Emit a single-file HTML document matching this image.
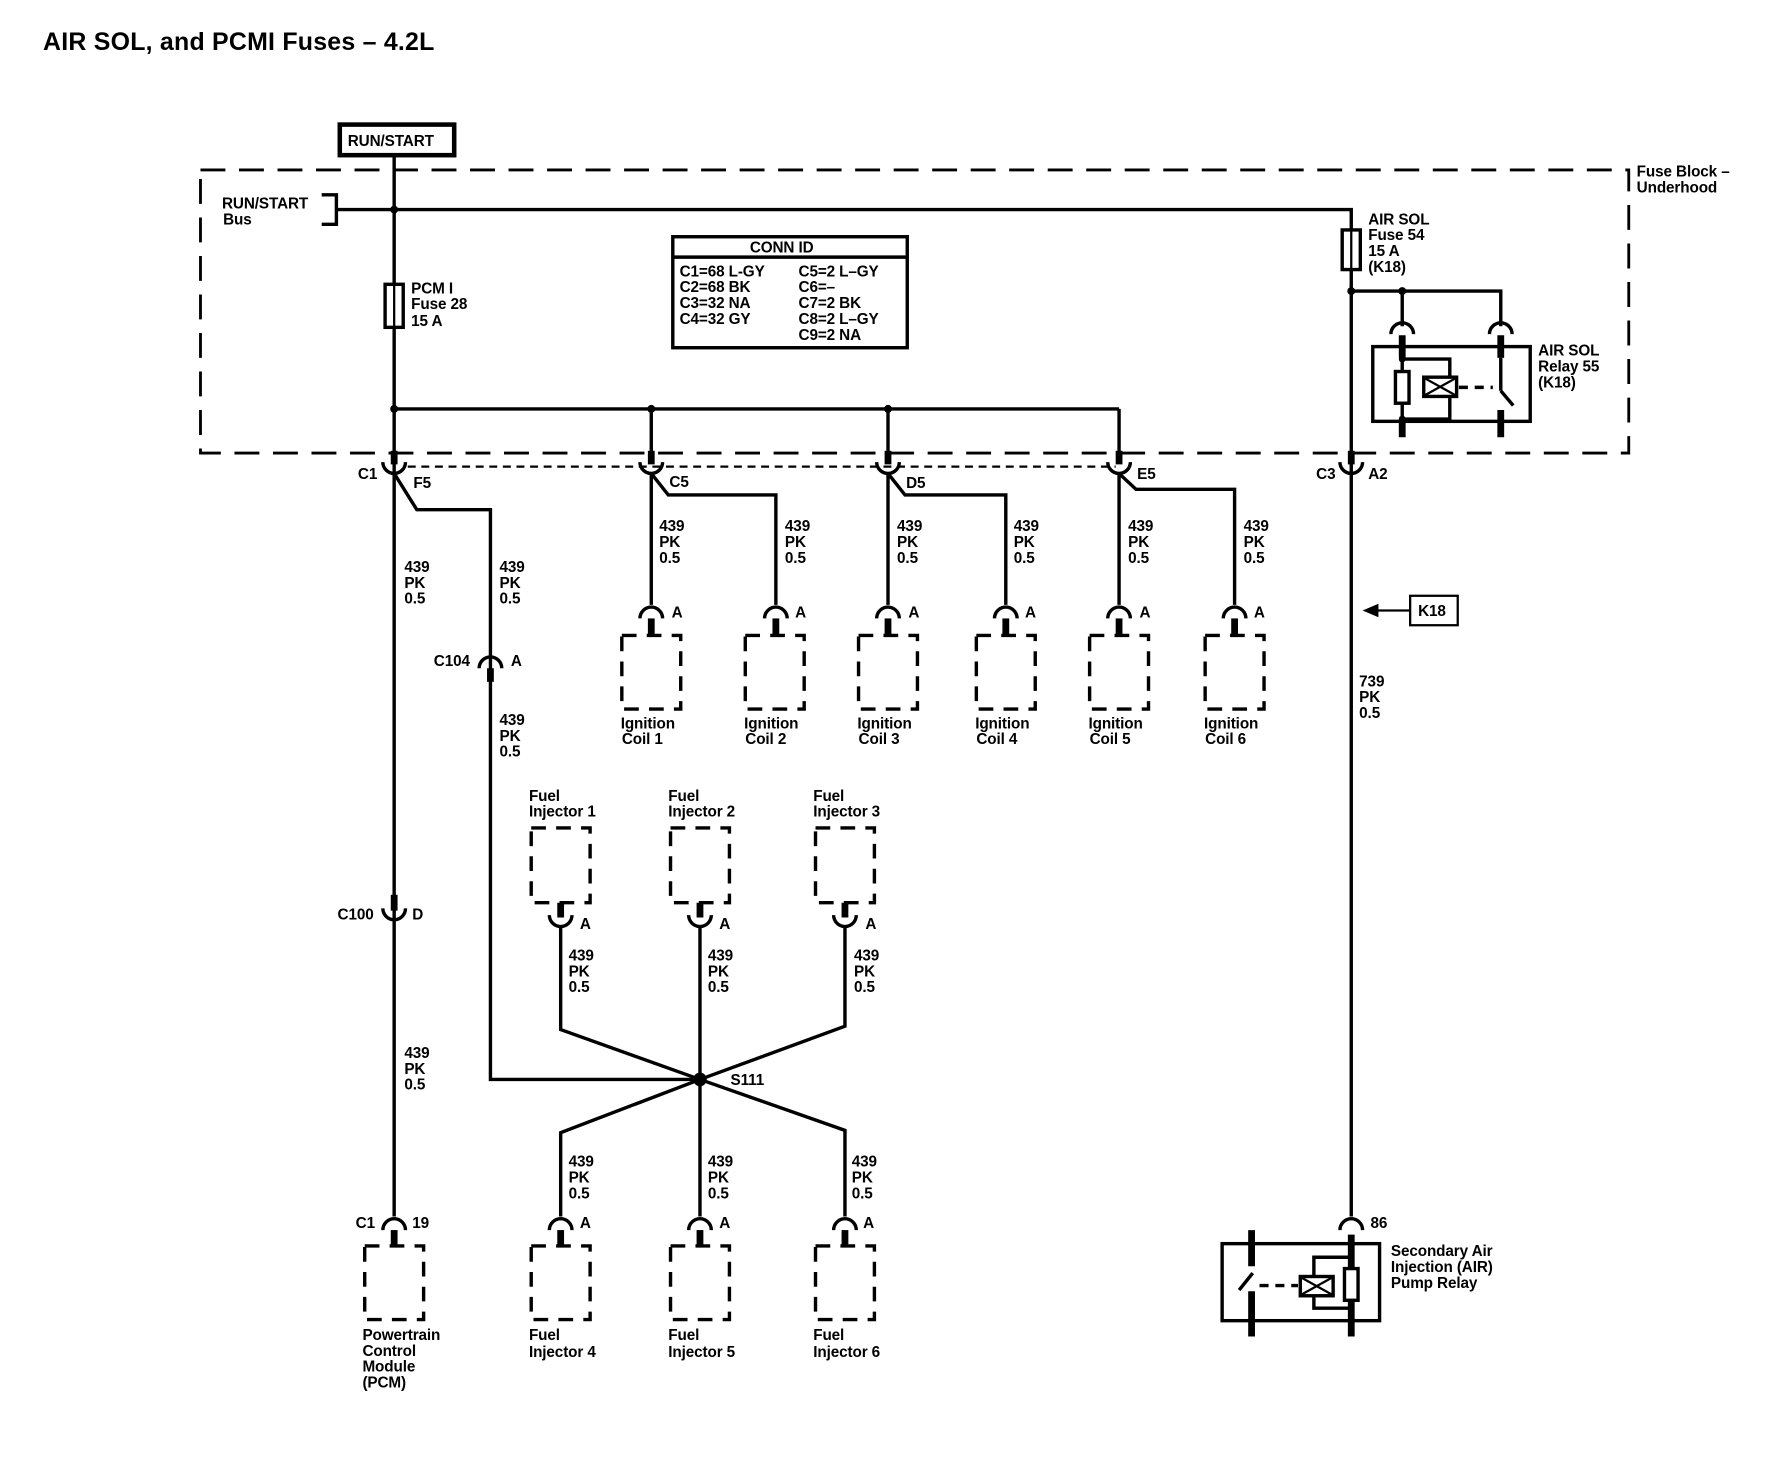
<!DOCTYPE html>
<html><head><meta charset="utf-8"><style>
html,body{margin:0;padding:0;background:#fff;}
svg{display:block;}
text{font-family:"Liberation Sans",Arial,sans-serif;font-size:13.5px;font-weight:bold;fill:#000;letter-spacing:-0.1px;}
.w{stroke:#000;stroke-width:3;fill:none;}
.t{stroke:#000;stroke-width:2;fill:none;}
.stub{stroke:#000;stroke-width:6;fill:none;}
.box{stroke:#000;stroke-width:3;fill:none;stroke-dasharray:13 9;}
</style></head><body>
<svg width="1776" height="1472" viewBox="0 0 1568 1299.6" xmlns="http://www.w3.org/2000/svg">
<rect width="1568" height="1300" fill="#fff"/>
<text x="38" y="44" style="font-size:22px;letter-spacing:0.2px">AIR SOL, and PCMI Fuses – 4.2L</text>

<rect x="300" y="110" width="101" height="27" fill="none" stroke="#000" stroke-width="4"/>
<text x="307" y="129">RUN/START</text>

<rect x="177" y="150" width="1261" height="250" fill="none" stroke="#000" stroke-width="2.5" stroke-dasharray="22 12"/>
<text x="1445" y="156">Fuse Block –</text>
<text x="1445" y="170">Underhood</text>

<path class="w" d="M348 138 V1074"/>
<path class="w" d="M298 185 H1193 V1074"/>
<path class="w" d="M284 172 H297 V198 H284"/>
<text x="196" y="184">RUN/START</text>
<text x="197" y="198">Bus</text>
<circle cx="348" cy="185" r="3.5"/>
<rect x="340" y="251" width="16" height="38" fill="#fff" stroke="#000" stroke-width="3"/>
<path class="t" d="M348 251 V289"/>
<text x="363" y="259">PCM I</text><text x="363" y="273">Fuse 28</text><text x="363" y="288">15 A</text>
<circle cx="348" cy="361" r="3.5"/>
<path class="w" d="M348 361 H988"/>
<circle cx="575" cy="361" r="3.5"/><circle cx="784" cy="361" r="3.5"/>
<path class="w" d="M575 361 V404 M784 361 V404 M988 361 V404"/>

<rect x="594" y="209" width="207" height="98" fill="none" stroke="#000" stroke-width="3"/>
<path class="w" d="M594 227 H801"/>
<text x="662" y="223">CONN ID</text>
<text x="600" y="244">C1=68 L-GY</text><text x="600" y="258">C2=68 BK</text><text x="600" y="272">C3=32 NA</text><text x="600" y="286">C4=32 GY</text>
<text x="705" y="244">C5=2 L–GY</text><text x="705" y="258">C6=–</text><text x="705" y="272">C7=2 BK</text><text x="705" y="286">C8=2 L–GY</text><text x="705" y="300">C9=2 NA</text>

<path d="M360 412 H985" stroke="#000" stroke-width="2" stroke-dasharray="7 5"/>
<g>
<path class="stub" d="M348 398 V410"/><path class="t" style="stroke-width:3" d="M338 408 A10 10 0 0 0 358 408"/>
<path class="stub" d="M575 398 V410"/><path class="t" style="stroke-width:3" d="M565 408 A10 10 0 0 0 585 408"/>
<path class="stub" d="M784 398 V410"/><path class="t" style="stroke-width:3" d="M774 408 A10 10 0 0 0 794 408"/>
<path class="stub" d="M988 398 V410"/><path class="t" style="stroke-width:3" d="M978 408 A10 10 0 0 0 998 408"/>
<path class="stub" d="M1193 398 V410"/><path class="t" style="stroke-width:3" d="M1183 408 A10 10 0 0 0 1203 408"/>
</g>
<text x="316" y="423">C1</text><text x="365" y="431">F5</text>
<text x="591" y="430">C5</text><text x="800" y="431">D5</text><text x="1004" y="423">E5</text>
<text x="1162" y="423">C3</text><text x="1208" y="423">A2</text>

<path class="w" d="M348 418 L368 450 H433 V953 H618"/>
<path class="w" d="M575 418 V534 M575 418 L590 437 H685 V534"/>
<path class="w" d="M784 418 V534 M784 418 L799 437 H888 V534"/>
<path class="w" d="M988 418 V534 M988 418 L1003 432 H1090 V534"/>

<g>
<text x="357" y="505">439</text><text x="357" y="519">PK</text><text x="357" y="533">0.5</text>
<text x="441" y="505">439</text><text x="441" y="519">PK</text><text x="441" y="533">0.5</text>
<text x="441" y="640">439</text><text x="441" y="654">PK</text><text x="441" y="668">0.5</text>
<text x="582" y="469">439</text><text x="582" y="483">PK</text><text x="582" y="497">0.5</text>
<text x="693" y="469">439</text><text x="693" y="483">PK</text><text x="693" y="497">0.5</text>
<text x="792" y="469">439</text><text x="792" y="483">PK</text><text x="792" y="497">0.5</text>
<text x="895" y="469">439</text><text x="895" y="483">PK</text><text x="895" y="497">0.5</text>
<text x="996" y="469">439</text><text x="996" y="483">PK</text><text x="996" y="497">0.5</text>
<text x="1098" y="469">439</text><text x="1098" y="483">PK</text><text x="1098" y="497">0.5</text>
<text x="357" y="934">439</text><text x="357" y="948">PK</text><text x="357" y="962">0.5</text>
<text x="502" y="848">439</text><text x="502" y="862">PK</text><text x="502" y="876">0.5</text>
<text x="625" y="848">439</text><text x="625" y="862">PK</text><text x="625" y="876">0.5</text>
<text x="754" y="848">439</text><text x="754" y="862">PK</text><text x="754" y="876">0.5</text>
<text x="502" y="1030">439</text><text x="502" y="1044">PK</text><text x="502" y="1058">0.5</text>
<text x="625" y="1030">439</text><text x="625" y="1044">PK</text><text x="625" y="1058">0.5</text>
<text x="752" y="1030">439</text><text x="752" y="1044">PK</text><text x="752" y="1058">0.5</text>
<text x="1200" y="606">739</text><text x="1200" y="620">PK</text><text x="1200" y="634">0.5</text>
</g>

<path class="t" style="stroke-width:3" d="M423 590 A10 10 0 0 1 443 590"/><path class="stub" d="M433 590 V602"/>
<text x="383" y="588">C104</text><text x="451" y="588">A</text>

<g>
<path class="t" style="stroke-width:3" d="M565 546 A10 10 0 0 1 585 546"/><path class="stub" d="M575 546 V561"/><rect class="box" x="549" y="561" width="52" height="65"/>
<path class="t" style="stroke-width:3" d="M675 546 A10 10 0 0 1 695 546"/><path class="stub" d="M685 546 V561"/><rect class="box" x="658" y="561" width="52" height="65"/>
<path class="t" style="stroke-width:3" d="M774 546 A10 10 0 0 1 794 546"/><path class="stub" d="M784 546 V561"/><rect class="box" x="758" y="561" width="52" height="65"/>
<path class="t" style="stroke-width:3" d="M878 546 A10 10 0 0 1 898 546"/><path class="stub" d="M888 546 V561"/><rect class="box" x="862" y="561" width="52" height="65"/>
<path class="t" style="stroke-width:3" d="M978 546 A10 10 0 0 1 998 546"/><path class="stub" d="M988 546 V561"/><rect class="box" x="962" y="561" width="52" height="65"/>
<path class="t" style="stroke-width:3" d="M1080 546 A10 10 0 0 1 1100 546"/><path class="stub" d="M1090 546 V561"/><rect class="box" x="1064" y="561" width="52" height="65"/>
</g>
<text x="593" y="545">A</text><text x="702" y="545">A</text><text x="802" y="545">A</text><text x="905" y="545">A</text><text x="1006" y="545">A</text><text x="1107" y="545">A</text>
<text x="548" y="643">Ignition</text><text x="549" y="657">Coil 1</text>
<text x="657" y="643">Ignition</text><text x="658" y="657">Coil 2</text>
<text x="757" y="643">Ignition</text><text x="758" y="657">Coil 3</text>
<text x="861" y="643">Ignition</text><text x="862" y="657">Coil 4</text>
<text x="961" y="643">Ignition</text><text x="962" y="657">Coil 5</text>
<text x="1063" y="643">Ignition</text><text x="1064" y="657">Coil 6</text>

<path class="stub" d="M348 790 V804"/><path class="t" style="stroke-width:3" d="M338 802 A10 10 0 0 0 358 802"/>
<text x="298" y="812">C100</text><text x="364" y="812">D</text>

<text x="467" y="707">Fuel</text><text x="467" y="721">Injector 1</text>
<text x="590" y="707">Fuel</text><text x="590" y="721">Injector 2</text>
<text x="718" y="707">Fuel</text><text x="718" y="721">Injector 3</text>
<rect class="box" x="469" y="731" width="52" height="66"/>
<rect class="box" x="592" y="731" width="52" height="66"/>
<rect class="box" x="720" y="731" width="52" height="66"/>
<path class="stub" d="M495 797 V810 M618 797 V810 M746 797 V810"/>
<path class="t" style="stroke-width:3" d="M485 808 A10 10 0 0 0 505 808 M608 808 A10 10 0 0 0 628 808 M736 808 A10 10 0 0 0 756 808"/>
<text x="512" y="820">A</text><text x="635" y="820">A</text><text x="764" y="820">A</text>
<path class="w" d="M495 818 V909 L618 953 M618 818 V1074 M746 818 V906 L618 953"/>
<path class="w" d="M618 953 L495 1000 V1074 M618 953 L746 998 V1074"/>
<circle cx="618" cy="953" r="6"/>
<text x="645" y="958">S111</text>

<g>
<path class="t" style="stroke-width:3" d="M338 1086 A10 10 0 0 1 358 1086"/><path class="stub" d="M348 1086 V1100"/><rect class="box" x="322" y="1100" width="52" height="65"/>
<path class="t" style="stroke-width:3" d="M485 1086 A10 10 0 0 1 505 1086"/><path class="stub" d="M495 1086 V1100"/><rect class="box" x="469" y="1100" width="52" height="65"/>
<path class="t" style="stroke-width:3" d="M608 1086 A10 10 0 0 1 628 1086"/><path class="stub" d="M618 1086 V1100"/><rect class="box" x="592" y="1100" width="52" height="65"/>
<path class="t" style="stroke-width:3" d="M736 1086 A10 10 0 0 1 756 1086"/><path class="stub" d="M746 1086 V1100"/><rect class="box" x="720" y="1100" width="52" height="65"/>
</g>
<text x="314" y="1084">C1</text><text x="364" y="1084">19</text>
<text x="512" y="1084">A</text><text x="635" y="1084">A</text><text x="762" y="1084">A</text>
<text x="320" y="1183">Powertrain</text><text x="320" y="1197">Control</text><text x="320" y="1211">Module</text><text x="320" y="1225">(PCM)</text>
<text x="467" y="1183">Fuel</text><text x="467" y="1198">Injector 4</text>
<text x="590" y="1183">Fuel</text><text x="590" y="1198">Injector 5</text>
<text x="718" y="1183">Fuel</text><text x="718" y="1198">Injector 6</text>

<rect x="1185" y="203" width="16" height="35" fill="#fff" stroke="#000" stroke-width="3"/>
<path class="t" d="M1193 203 V238"/>
<text x="1208" y="198">AIR SOL</text><text x="1208" y="212">Fuse 54</text><text x="1208" y="226">15 A</text><text x="1208" y="240">(K18)</text>
<circle cx="1193" cy="257" r="3.5"/><circle cx="1238" cy="257" r="3.5"/>
<path class="w" d="M1193 257 H1325 V288 M1238 257 V288"/>
<path class="t" style="stroke-width:3" d="M1228 295 A10 10 0 0 1 1248 295 M1315 295 A10 10 0 0 1 1335 295"/>
<path class="stub" d="M1238 296 V316 M1325 296 V316 M1238 372 V386 M1325 362 V386"/>
<rect x="1212" y="306" width="139" height="66" fill="none" stroke="#000" stroke-width="3"/>
<path class="t" style="stroke-width:3" d="M1238 316 V372 M1238 317 H1280 V370 H1238 M1325 316 V345"/>
<circle cx="1238" cy="317" r="3"/><circle cx="1238" cy="370" r="3"/>
<rect x="1232" y="328" width="12" height="28" fill="#fff" stroke="#000" stroke-width="3"/>
<rect x="1257" y="333" width="29" height="17" fill="#fff" stroke="#000" stroke-width="3"/>
<path class="t" d="M1258 334 L1285 349 M1258 349 L1285 334"/>
<path d="M1288 342 H1318" stroke="#000" stroke-width="3" stroke-dasharray="8 6"/>
<path class="w" d="M1325 345 L1336 358"/>
<text x="1358" y="314">AIR SOL</text><text x="1358" y="328">Relay 55</text><text x="1358" y="342">(K18)</text>

<path class="t" d="M1216 539 H1245"/><path d="M1203 539 L1217 533 L1217 545 Z"/>
<rect x="1245" y="526" width="42" height="26" fill="none" stroke="#000" stroke-width="2"/>
<text x="1252" y="544">K18</text>

<path class="t" style="stroke-width:3" d="M1183 1086 A10 10 0 0 1 1203 1086"/>
<rect x="1079" y="1098" width="139" height="68" fill="#fff" stroke="#000" stroke-width="3"/>
<path class="stub" d="M1193 1090 V1180 M1105 1086 V1118 M1105 1140 V1180"/>
<path class="w" d="M1094 1139 L1106 1124"/>
<path class="t" style="stroke-width:3" d="M1193 1110 H1160 V1155 H1193"/>
<rect x="1187" y="1120" width="12" height="28" fill="#fff" stroke="#000" stroke-width="3"/>
<rect x="1148" y="1127" width="29" height="17" fill="#fff" stroke="#000" stroke-width="3"/>
<path class="t" d="M1149 1128 L1176 1143 M1149 1143 L1176 1128"/>
<path d="M1112 1135 H1146" stroke="#000" stroke-width="3" stroke-dasharray="8 6"/>
<text x="1210" y="1084">86</text>
<text x="1228" y="1109">Secondary Air</text><text x="1228" y="1123">Injection (AIR)</text><text x="1228" y="1137">Pump Relay</text>
</svg>
</body></html>
